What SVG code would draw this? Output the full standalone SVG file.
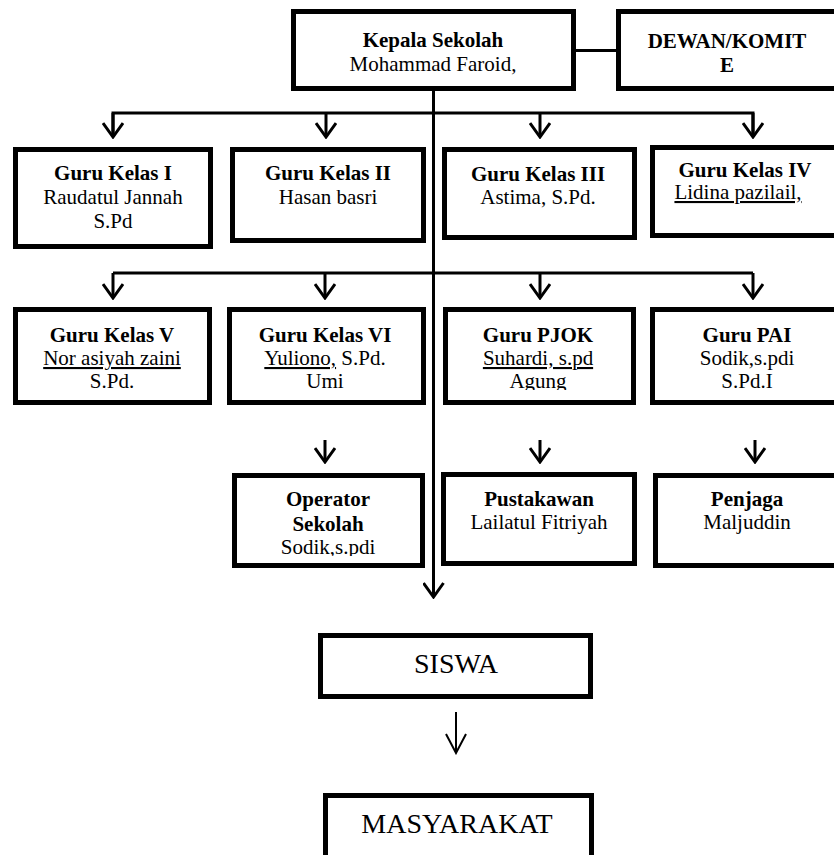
<svg xmlns="http://www.w3.org/2000/svg" width="834" height="855" viewBox="0 0 834 855">
<style>
.box{fill:#fff;stroke:#000;stroke-width:5}
.t{font-family:"Liberation Serif","Times New Roman",serif;font-size:21px;fill:#000;text-anchor:middle}
.b{font-weight:bold}
.big{font-family:"Liberation Serif","Times New Roman",serif;font-size:28px;fill:#000;text-anchor:middle}
.u{text-decoration:underline}
.ln{fill:none;stroke:#000;stroke-width:3}
.ar{fill:none;stroke:#000;stroke-width:3;marker-end:url(#v)}
.ar2{fill:none;stroke:#000;stroke-width:2;marker-end:url(#v2)}
</style>
<defs>
<marker id="v" viewBox="0 0 17 22" refX="15" refY="11" markerWidth="17" markerHeight="22" markerUnits="userSpaceOnUse" orient="auto">
<path d="M1,1 L15,11 L1,21" fill="none" stroke="#000" stroke-width="3"/>
</marker>
<marker id="v2" viewBox="0 0 22 22" refX="20" refY="11" markerWidth="22" markerHeight="22" markerUnits="userSpaceOnUse" orient="auto">
<path d="M1,1 L20,11 L1,21" fill="none" stroke="#000" stroke-width="2"/>
</marker>
<clipPath id="cPJOK"><rect x="448" y="312" width="183" height="78"/></clipPath>
<clipPath id="cOp"><rect x="237" y="478" width="183" height="78"/></clipPath>
</defs>
<rect width="834" height="855" fill="#fff"/>
<g id="connectors">
<line class="ln" x1="576" y1="50.5" x2="616" y2="50.5"/>
<path class="ar" d="M433.5,91 V597"/>
<path class="ln" d="M113,137 V113 H753 V137"/>
<path class="ar" d="M113,113 V137"/>
<path class="ar" d="M326,113 V137"/>
<path class="ar" d="M540,113 V137"/>
<path class="ar" d="M753,113 V137"/>
<path class="ln" d="M113,273 H753"/>
<path class="ar" d="M113,273 V298"/>
<path class="ar" d="M325,273 V298"/>
<path class="ar" d="M540,273 V298"/>
<path class="ar" d="M753,273 V298"/>
<path class="ar" d="M325,440 V462"/>
<path class="ar" d="M540,440 V462"/>
<path class="ar" d="M755,440 V462"/>
<path class="ar2" d="M456,712 V753"/>
</g>
<g id="kepala">
<rect class="box" x="293.5" y="11.5" width="280" height="77"/>
<text class="t b" x="433" y="47">Kepala Sekolah</text>
<text class="t" x="433" y="71">Mohammad Faroid,</text>
</g>
<g id="dewan">
<rect class="box" x="618.5" y="11.5" width="230" height="77"/>
<text class="t b" x="727" y="48">DEWAN/KOMIT</text>
<text class="t b" x="727" y="72">E</text>
</g>
<g id="guru1">
<rect class="box" x="15.5" y="149.5" width="195" height="97"/>
<text class="t b" x="113" y="180">Guru Kelas I</text>
<text class="t" x="113" y="204">Raudatul Jannah</text>
<text class="t" x="113" y="228">S.Pd</text>
</g>
<g id="guru2">
<rect class="box" x="232.5" y="149.5" width="191" height="91"/>
<text class="t b" x="328" y="180">Guru Kelas II</text>
<text class="t" x="328" y="204">Hasan basri</text>
</g>
<g id="guru3">
<rect class="box" x="444.5" y="149.5" width="190" height="88"/>
<text class="t b" x="538" y="181">Guru Kelas III</text>
<text class="t" x="538" y="204">Astima, S.Pd.</text>
</g>
<g id="guru4">
<rect class="box" x="652.5" y="147.5" width="190" height="88"/>
<text class="t b" x="745" y="177">Guru Kelas IV</text>
<text class="t u" x="738" y="199">Lidina pazilail,</text>
</g>
<g id="guru5">
<rect class="box" x="15.5" y="309.5" width="194" height="93"/>
<text class="t b" x="112" y="342">Guru Kelas V</text>
<text class="t u" x="112" y="365">Nor asiyah zaini</text>
<text class="t" x="112" y="388">S.Pd.</text>
</g>
<g id="guru6">
<rect class="box" x="229.5" y="309.5" width="194" height="93"/>
<text class="t b" x="325" y="342">Guru Kelas VI</text>
<text class="t" x="325" y="365"><tspan class="u">Yuliono,</tspan> S.Pd.</text>
<text class="t" x="325" y="388">Umi</text>
</g>
<g id="pjok">
<rect class="box" x="445.5" y="309.5" width="188" height="93"/>
<text class="t b" x="538" y="342">Guru PJOK</text>
<text class="t u" x="538" y="365">Suhardi, s.pd</text>
<text class="t" x="538" y="388" clip-path="url(#cPJOK)">Agung</text>
</g>
<g id="pai">
<rect class="box" x="652.5" y="309.5" width="190" height="93"/>
<text class="t b" x="747" y="342">Guru PAI</text>
<text class="t" x="747" y="365">Sodik,s.pdi</text>
<text class="t" x="747" y="388">S.Pd.I</text>
</g>
<g id="operator">
<rect class="box" x="234.5" y="475.5" width="188" height="90"/>
<text class="t b" x="328" y="506">Operator</text>
<text class="t b" x="328" y="531">Sekolah</text>
<text class="t" x="328" y="554" clip-path="url(#cOp)">Sodik,s.pdi</text>
</g>
<g id="pustakawan">
<rect class="box" x="443.5" y="474.5" width="191" height="89"/>
<text class="t b" x="539" y="506">Pustakawan</text>
<text class="t" x="539" y="529">Lailatul Fitriyah</text>
</g>
<g id="penjaga">
<rect class="box" x="655.5" y="475.5" width="190" height="90"/>
<text class="t b" x="747" y="506">Penjaga</text>
<text class="t" x="747" y="529">Maljuddin</text>
</g>
<g id="siswa">
<rect class="box" x="320.5" y="635.5" width="270" height="61"/>
<text class="big" x="456" y="673">SISWA</text>
</g>
<g id="masyarakat">
<rect class="box" x="325.5" y="795.5" width="266" height="70"/>
<text class="big" x="457" y="833">MASYARAKAT</text>
</g>
</svg>
